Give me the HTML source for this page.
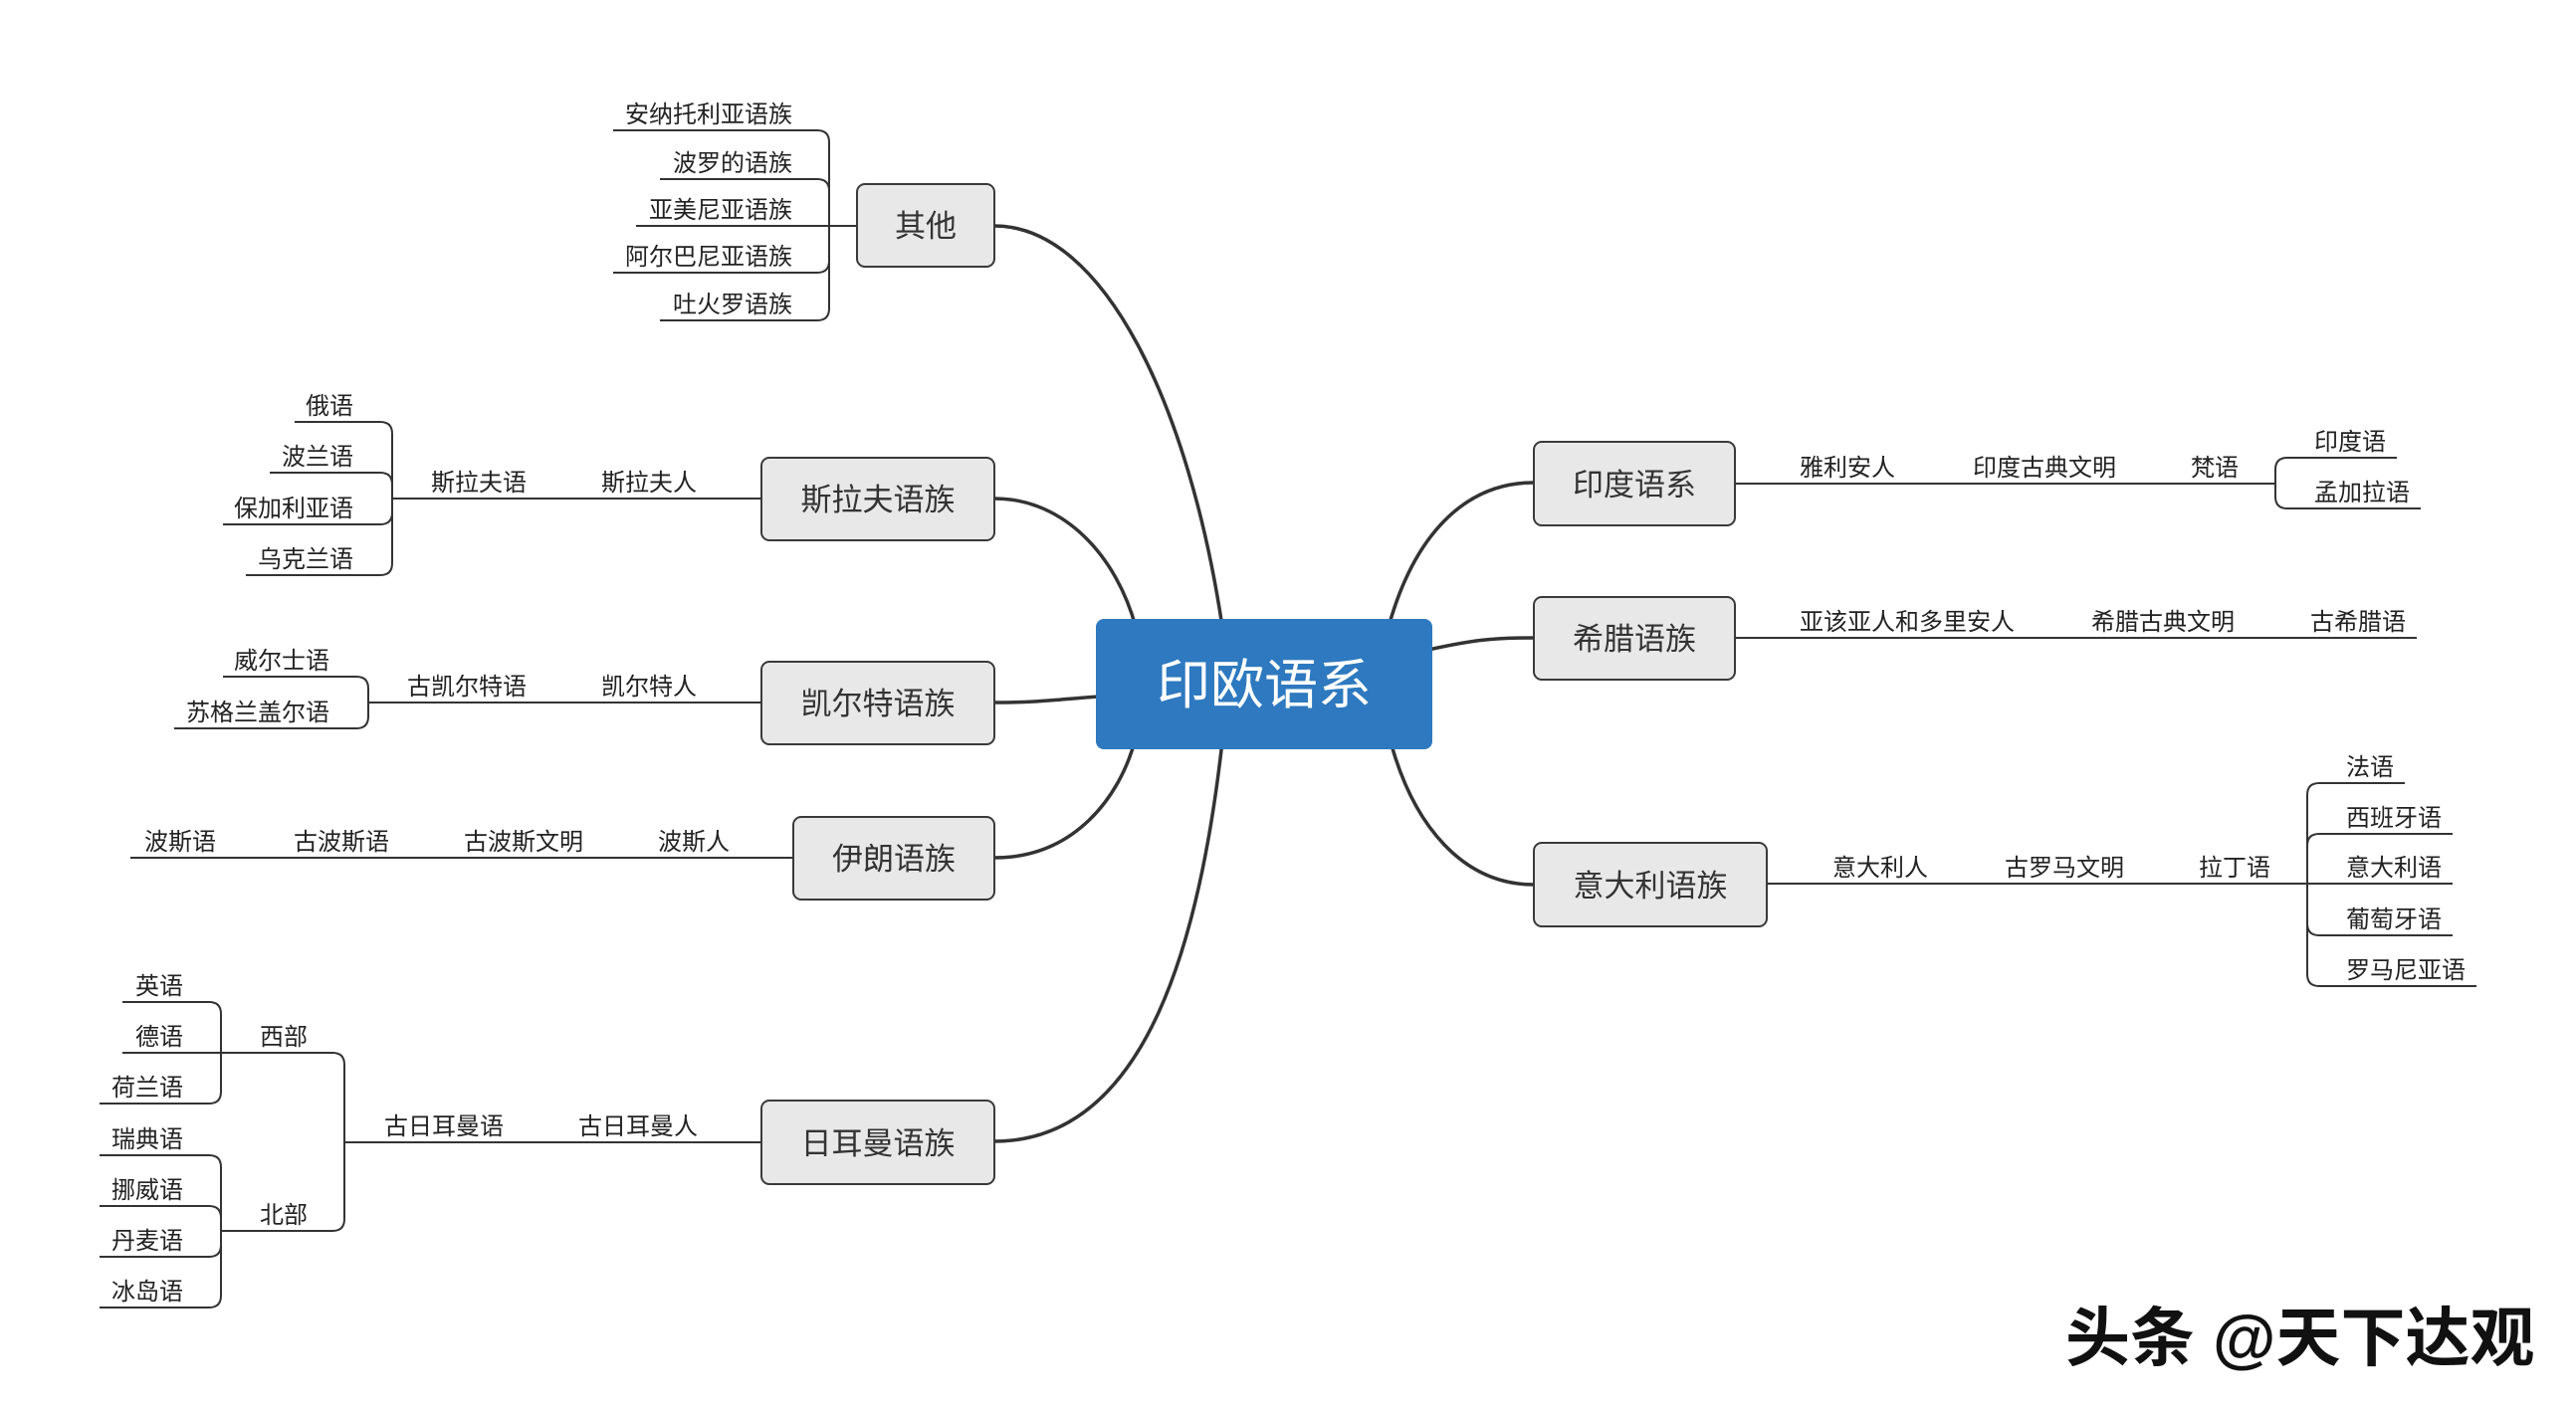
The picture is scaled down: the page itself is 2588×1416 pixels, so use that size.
<!DOCTYPE html>
<html>
<head>
<meta charset="utf-8">
<style>
  html, body { margin:0; padding:0; background:#ffffff; }
  body { width:2588px; height:1416px; overflow:hidden; }
  svg { display:block; }
  text { font-family: "Liberation Sans", "Noto Sans CJK SC", "WenQuanYi Zen Hei", sans-serif; }
  .s { font-size:24px; fill:#222; }
  .b { font-size:31px; fill:#333; }
</style>
</head>
<body>
<svg width="2588" height="1416" viewBox="0 0 2588 1416" xmlns="http://www.w3.org/2000/svg">
  <rect width="2588" height="1416" fill="#ffffff"/>

  <!-- main curves -->
  <g fill="none" stroke="#333" stroke-width="3.5" stroke-linecap="round">
    <path d="M999,227 C1110,227 1195,410 1228,630"/>
    <path d="M999,501 C1070,501 1122,560 1141,630"/>
    <path d="M999,706 C1050,706 1070,702 1105,700"/>
    <path d="M999,862 C1080,862 1125,800 1140,745"/>
    <path d="M999,1147 C1150,1147 1205,950 1228,745"/>
    <path d="M1395,630 C1420,540 1470,485 1541,485"/>
    <path d="M1435,653 C1480,643 1500,641 1541,641"/>
    <path d="M1397,745 C1420,830 1470,889 1541,889"/>
  </g>

  <!-- thin connectors -->
  <g fill="none" stroke="#333" stroke-width="2">
    <!-- 其他 -->
    <path d="M616,131 H821 Q833,131 833,143 V227"/>
    <path d="M663,180 H821 Q833,180 833,192 V227"/>
    <path d="M639,227 H861"/>
    <path d="M616,274 H821 Q833,274 833,262 V227"/>
    <path d="M663,322 H821 Q833,322 833,310 V227"/>
    <!-- 斯拉夫 -->
    <path d="M296,424 H382 Q394,424 394,436 V501"/>
    <path d="M271,475 H382 Q394,475 394,487 V501"/>
    <path d="M224,527 H382 Q394,527 394,515 V501"/>
    <path d="M247,578 H382 Q394,578 394,566 V501"/>
    <path d="M394,501 H765"/>
    <!-- 凯尔特 -->
    <path d="M224,680 H358 Q370,680 370,692 V706"/>
    <path d="M175,732 H358 Q370,732 370,720 V706"/>
    <path d="M370,706 H765"/>
    <!-- 伊朗 -->
    <path d="M131,862 H797"/>
    <!-- 日耳曼 -->
    <path d="M222,1058 H334 Q346,1058 346,1070 V1148"/>
    <path d="M222,1237 H334 Q346,1237 346,1225 V1148"/>
    <path d="M346,1148 H765"/>
    <path d="M123,1007 H210 Q222,1007 222,1019 V1058"/>
    <path d="M123,1058 H222"/>
    <path d="M100,1109 H210 Q222,1109 222,1097 V1058"/>
    <path d="M100,1161 H210 Q222,1161 222,1173 V1237"/>
    <path d="M100,1212 H210 Q222,1212 222,1224 V1237"/>
    <path d="M100,1263 H210 Q222,1263 222,1251 V1237"/>
    <path d="M100,1314 H210 Q222,1314 222,1302 V1237"/>
    <!-- 印度 -->
    <path d="M1743,486 H2286"/>
    <path d="M2408,460 H2298 Q2286,460 2286,472 V486"/>
    <path d="M2432,511 H2298 Q2286,511 2286,499 V486"/>
    <!-- 希腊 -->
    <path d="M1743,641 H2428"/>
    <!-- 意大利 -->
    <path d="M1775,888 H2464"/>
    <path d="M2416,787 H2330 Q2318,787 2318,799 V888"/>
    <path d="M2464,838 H2330 Q2318,838 2318,850 V888"/>
    <path d="M2464,940 H2330 Q2318,940 2318,928 V888"/>
    <path d="M2488,991 H2330 Q2318,991 2318,979 V888"/>
  </g>

  <!-- boxes -->
  <g fill="#e8e8e8" stroke="#3a3a3a" stroke-width="2">
    <rect x="861" y="185" width="138" height="83" rx="8"/>
    <rect x="765" y="460" width="234" height="83" rx="8"/>
    <rect x="765" y="665" width="234" height="83" rx="8"/>
    <rect x="797" y="821" width="202" height="83" rx="8"/>
    <rect x="765" y="1106" width="234" height="84" rx="8"/>
    <rect x="1541" y="444" width="202" height="84" rx="8"/>
    <rect x="1541" y="600" width="202" height="83" rx="8"/>
    <rect x="1541" y="847" width="234" height="84" rx="8"/>
  </g>

  <!-- center -->
  <rect x="1101" y="622" width="338" height="131" rx="8" fill="#2e79bf"/>
  <text x="1270" y="707" text-anchor="middle" style="font-size:54px; fill:#ffffff;">印欧语系</text>

  <!-- box labels -->
  <g class="b" text-anchor="middle">
    <text class="b" x="930" y="238">其他</text>
    <text class="b" x="882" y="513">斯拉夫语族</text>
    <text class="b" x="882" y="718">凯尔特语族</text>
    <text class="b" x="898" y="874">伊朗语族</text>
    <text class="b" x="882" y="1160">日耳曼语族</text>
    <text class="b" x="1642" y="498">印度语系</text>
    <text class="b" x="1642" y="653">希腊语族</text>
    <text class="b" x="1658" y="901">意大利语族</text>
  </g>

  <!-- left leaves (right aligned) -->
  <g text-anchor="end">
    <text class="s" x="796" y="123">安纳托利亚语族</text>
    <text class="s" x="796" y="172">波罗的语族</text>
    <text class="s" x="796" y="219">亚美尼亚语族</text>
    <text class="s" x="796" y="266">阿尔巴尼亚语族</text>
    <text class="s" x="796" y="314">吐火罗语族</text>

    <text class="s" x="355" y="416">俄语</text>
    <text class="s" x="355" y="467">波兰语</text>
    <text class="s" x="355" y="519">保加利亚语</text>
    <text class="s" x="355" y="570">乌克兰语</text>

    <text class="s" x="331" y="672">威尔士语</text>
    <text class="s" x="331" y="724">苏格兰盖尔语</text>

    <text class="s" x="184" y="999">英语</text>
    <text class="s" x="184" y="1050">德语</text>
    <text class="s" x="184" y="1101">荷兰语</text>
    <text class="s" x="184" y="1153">瑞典语</text>
    <text class="s" x="184" y="1204">挪威语</text>
    <text class="s" x="184" y="1255">丹麦语</text>
    <text class="s" x="184" y="1306">冰岛语</text>
  </g>

  <!-- intermediate labels -->
  <g>
    <text class="s" x="433" y="493">斯拉夫语</text>
    <text class="s" x="604" y="493">斯拉夫人</text>
    <text class="s" x="409" y="698">古凯尔特语</text>
    <text class="s" x="604" y="698">凯尔特人</text>
    <text class="s" x="145" y="854">波斯语</text>
    <text class="s" x="295" y="854">古波斯语</text>
    <text class="s" x="466" y="854">古波斯文明</text>
    <text class="s" x="661" y="854">波斯人</text>
    <text class="s" x="386" y="1140">古日耳曼语</text>
    <text class="s" x="581" y="1140">古日耳曼人</text>
    <text class="s" x="261" y="1050">西部</text>
    <text class="s" x="261" y="1229">北部</text>

    <text class="s" x="1808" y="478">雅利安人</text>
    <text class="s" x="1982" y="478">印度古典文明</text>
    <text class="s" x="2201" y="478">梵语</text>
    <text class="s" x="2325" y="452">印度语</text>
    <text class="s" x="2325" y="503">孟加拉语</text>

    <text class="s" x="1808" y="633">亚该亚人和多里安人</text>
    <text class="s" x="2101" y="633">希腊古典文明</text>
    <text class="s" x="2321" y="633">古希腊语</text>

    <text class="s" x="1841" y="880">意大利人</text>
    <text class="s" x="2014" y="880">古罗马文明</text>
    <text class="s" x="2209" y="880">拉丁语</text>
    <text class="s" x="2357" y="779">法语</text>
    <text class="s" x="2357" y="830">西班牙语</text>
    <text class="s" x="2357" y="880">意大利语</text>
    <text class="s" x="2357" y="932">葡萄牙语</text>
    <text class="s" x="2357" y="983">罗马尼亚语</text>
  </g>

  <!-- watermark -->
  <text x="2075" y="1367" style="font-size:65px; font-weight:bold; fill:#111;">头条 @天下达观</text>
</svg>
</body>
</html>
